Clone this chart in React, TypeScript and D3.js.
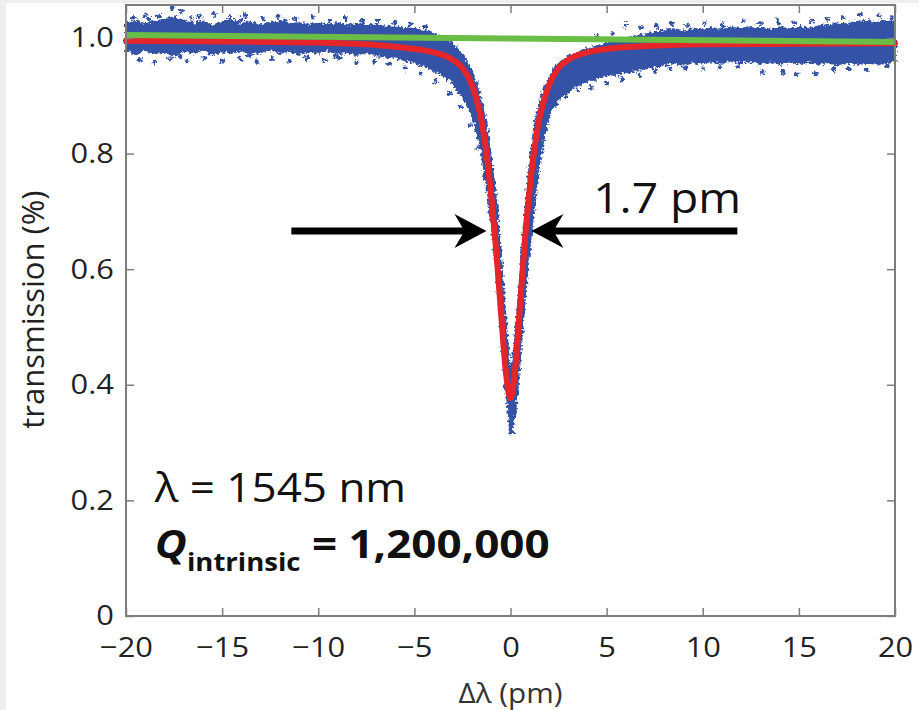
import React, { useEffect, useRef } from 'react';
import * as d3 from 'd3';

const WIDTH = 919;
const HEIGHT = 710;

// axis ticks
const X_TICKS = [-20, -15, -10, -5, 0, 5, 10, 15, 20];
const X_TICK_LABELS = ['−20', '−15', '−10', '−5', '0', '5', '10', '15', '20'];
const Y_TICKS = [0, 0.2, 0.4, 0.6, 0.8, 1.0];
const Y_TICK_LABELS = ['0', '0.2', '0.4', '0.6', '0.8', '1.0'];

// measured data, drawn as a dense band (lower / upper edge of the blue cloud)
const BAND_X = [
  -20, -19.5, -19, -18.5, -18, -17.5, -17, -16.5, -16, -15.5, -15, -14.5, -14, -13.5, -13,
  -12.5, -12, -11.5, -11, -10.5, -10, -9.5, -9, -8.5, -8, -7.5, -7, -6.5, -6, -5.5, -5,
  -4.5, -4, -3.5, -3, -2.75, -2.5, -2.25, -2, -1.75, -1.5, -1.25, -1, -0.75, -0.5, -0.25,
  0, 0.25, 0.5, 0.75, 1, 1.25, 1.5, 1.75, 2, 2.25, 2.5, 3, 3.5, 4, 4.5, 5, 5.5, 6, 6.5,
  7, 7.5, 8, 8.5, 9, 9.5, 10, 10.5, 11, 11.5, 12, 12.5, 13, 13.5, 14, 14.5, 15, 15.5, 16,
  16.5, 17, 17.5, 18, 18.5, 19, 19.5, 20,
];
const BAND_LO = [
  0.978, 0.972, 0.98, 0.974, 0.976, 0.97, 0.978, 0.975, 0.98, 0.972, 0.977, 0.974, 0.979,
  0.973, 0.976, 0.981, 0.974, 0.978, 0.972, 0.977, 0.974, 0.979, 0.973, 0.976, 0.971, 0.975,
  0.97, 0.968, 0.966, 0.962, 0.958, 0.952, 0.945, 0.935, 0.922, 0.91, 0.897, 0.885, 0.868,
  0.84, 0.8, 0.75, 0.69, 0.61, 0.51, 0.4, 0.32, 0.35, 0.45, 0.55, 0.64, 0.72, 0.785, 0.83,
  0.868, 0.884, 0.895, 0.908, 0.918, 0.925, 0.93, 0.935, 0.938, 0.941, 0.944, 0.947, 0.95,
  0.953, 0.956, 0.954, 0.958, 0.956, 0.96, 0.957, 0.961, 0.958, 0.96, 0.956, 0.959, 0.955,
  0.958, 0.956, 0.959, 0.955, 0.958, 0.954, 0.957, 0.955, 0.957, 0.956, 0.958, 0.96,
];
const BAND_HI = [
  1.026, 1.03, 1.024, 1.028, 1.032, 1.036, 1.03, 1.025, 1.028, 1.022, 1.027, 1.031, 1.024,
  1.027, 1.022, 1.026, 1.029, 1.023, 1.026, 1.021, 1.025, 1.022, 1.026, 1.02, 1.024, 1.021,
  1.023, 1.019, 1.02, 1.017, 1.016, 1.012, 1.008, 1.0, 0.99, 0.98, 0.97, 0.957, 0.942, 0.918,
  0.888, 0.845, 0.79, 0.72, 0.625, 0.51, 0.41, 0.48, 0.58, 0.69, 0.78, 0.85, 0.885, 0.91,
  0.93, 0.945, 0.955, 0.967, 0.975, 0.981, 0.986, 0.99, 0.995, 0.999, 1.003, 1.006, 1.009,
  1.012, 1.015, 1.011, 1.016, 1.013, 1.017, 1.014, 1.018, 1.015, 1.019, 1.016, 1.014, 1.018,
  1.015, 1.019, 1.016, 1.02, 1.022, 1.025, 1.023, 1.028, 1.03, 1.026, 1.029, 1.027,
];

// individual points sticking out of the cloud
const DOTS: [number, number][] = [
  [-19.6, 1.036], [-19.0, 1.04], [-18.3, 1.038], [-17.6, 1.052], [-17.1, 1.046], [-16.2, 1.037],
  [-15.4, 1.041], [-14.6, 1.036], [-13.8, 1.039], [-12.9, 1.034], [-12.1, 1.037], [-11.2, 1.033],
  [-10.3, 1.036], [-9.4, 1.031], [-8.6, 1.034], [-7.7, 1.029], [-6.9, 1.031], [-6.0, 1.027],
  [-5.2, 1.024], [-4.4, 1.02], [-18.8, 1.033], [-16.6, 1.034], [-14.0, 1.032], [-11.7, 1.03],
  [-19.3, 0.962], [-18.5, 0.958], [-17.7, 0.964], [-16.8, 0.96], [-15.9, 0.966], [-15.0, 0.961],
  [-14.1, 0.965], [-13.2, 0.959], [-12.4, 0.964], [-11.5, 0.96], [-10.6, 0.966], [-9.7, 0.961],
  [-8.9, 0.965], [-8.0, 0.958], [-7.1, 0.96], [-6.3, 0.955], [-5.5, 0.948], [-4.7, 0.938],
  [-3.9, 0.925], [-3.2, 0.905], [-17.2, 0.968], [-13.6, 0.97], [-9.1, 0.968],
  [-2.6, 0.88], [-2.1, 0.85], [-1.7, 0.81], [-1.35, 0.76], [-1.05, 0.7], [-0.8, 0.63],
  [-0.55, 0.55], [-0.32, 0.47], [-0.12, 0.4], [0.02, 0.33], [0.06, 0.318], [-0.03, 0.35],
  [0.1, 0.37], [0.3, 0.45], [0.52, 0.53], [0.72, 0.62], [0.95, 0.7], [1.2, 0.78], [1.5, 0.83],
  [1.9, 0.865], [2.4, 0.885], [2.9, 0.9], [3.5, 0.91],
  [4.5, 1.002], [5.3, 1.008], [6.0, 1.022], [6.8, 1.018], [7.6, 1.021], [8.4, 1.025],
  [9.2, 1.022], [10.1, 1.026], [11.0, 1.023], [12.1, 1.03], [13.0, 1.025], [13.9, 1.028],
  [14.8, 1.026], [15.7, 1.029], [16.5, 1.032], [17.3, 1.036], [18.2, 1.041], [19.2, 1.038],
  [19.8, 1.034],
  [4.2, 0.915], [5.0, 0.922], [5.8, 0.93], [6.7, 0.936], [7.5, 0.942], [8.3, 0.946],
  [9.1, 0.948], [10.0, 0.947], [10.9, 0.95], [11.8, 0.949], [13.1, 0.941], [14.2, 0.94],
  [14.9, 0.938], [15.9, 0.938], [16.8, 0.946], [17.6, 0.947], [18.5, 0.945], [19.6, 0.952],
];

// Lorentzian fit (red)
const FIT_X = [
  -20, -15, -10, -7, -5, -4, -3, -2.5, -2, -1.75, -1.5, -1.25, -1, -0.75, -0.5, -0.25, 0,
  0.25, 0.5, 0.75, 1, 1.25, 1.5, 1.75, 2, 2.5, 3, 4, 5, 7, 10, 15, 20,
];
const FIT_Y = [
  0.995, 0.994, 0.992, 0.988, 0.981, 0.975, 0.962, 0.948, 0.918, 0.892, 0.855, 0.8, 0.725,
  0.635, 0.528, 0.425, 0.377, 0.43, 0.54, 0.65, 0.74, 0.81, 0.86, 0.893, 0.918, 0.948, 0.962,
  0.975, 0.981, 0.986, 0.989, 0.99, 0.991,
];

// baseline (green)
const BASE_X = [-20, 20];
const BASE_Y = [1.005, 0.993];

const BLUE = '#3453a6';
const RED = '#e5252a';
const GREEN = '#6abd45';
const FONT = '"Open Sans", "Noto Sans", sans-serif';
const STRETCH = 1.1; // the reference lettering is a little wide

function App() {
  const svgRef = useRef<SVGSVGElement | null>(null);

  useEffect(() => {
    const svg = d3.select(svgRef.current);
    svg.selectAll('*').remove();

    const margin = { top: 5, right: 24, bottom: 94, left: 126 };
    const x = d3.scaleLinear().domain([-20, 20]).range([margin.left, WIDTH - margin.right]);
    const y = d3.scaleLinear().domain([0, 1.057]).range([HEIGHT - margin.bottom, margin.top]);

    // ragged edges for the scatter cloud
    const defs = svg.append('defs');
    const filter = defs
      .append('filter')
      .attr('id', 'fuzz')
      .attr('x', '-5%')
      .attr('y', '-5%')
      .attr('width', '110%')
      .attr('height', '110%');
    filter
      .append('feTurbulence')
      .attr('type', 'fractalNoise')
      .attr('baseFrequency', 0.35)
      .attr('numOctaves', 2)
      .attr('seed', 3)
      .attr('result', 'noise');
    filter
      .append('feDisplacementMap')
      .attr('in', 'SourceGraphic')
      .attr('in2', 'noise')
      .attr('scale', 7)
      .attr('xChannelSelector', 'R')
      .attr('yChannelSelector', 'G');

    svg.append('rect').attr('width', WIDTH).attr('height', HEIGHT).attr('fill', '#fff');
    svg.append('rect').attr('width', 6).attr('height', HEIGHT).attr('fill', '#eeeeee');
    svg.append('rect').attr('width', WIDTH).attr('height', 3).attr('fill', '#eeeeee');

    const x0 = x(-20);
    const x1 = x(20);
    const y0 = y(0);
    const y1 = y(1.057);

    // data cloud
    const cloud = svg.append('g').attr('filter', 'url(#fuzz)');
    const band = BAND_X.map((v, i) => ({ x: v, lo: BAND_LO[i], hi: BAND_HI[i] }));
    const area = d3
      .area<{ x: number; lo: number; hi: number }>()
      .x((d) => x(d.x))
      .y0((d) => y(d.lo))
      .y1((d) => y(d.hi));
    cloud
      .append('path')
      .attr('d', area(band))
      .attr('fill', BLUE)
      .attr('stroke', BLUE)
      .attr('stroke-width', 2)
      .attr('stroke-linejoin', 'round');

    cloud
      .append('g')
      .selectAll('circle')
      .data(DOTS)
      .join('circle')
      .attr('cx', (d) => x(d[0]))
      .attr('cy', (d) => y(d[1]))
      .attr('r', 2.4)
      .attr('fill', BLUE);

    // fit and baseline
    const line = d3
      .line<number>()
      .x((d) => x(d))
      .curve(d3.curveMonotoneX);

    svg
      .append('path')
      .attr('d', line.y((_, i) => y(FIT_Y[i]))(FIT_X))
      .attr('fill', 'none')
      .attr('stroke', RED)
      .attr('stroke-width', 6)
      .attr('stroke-linecap', 'round');

    svg
      .append('path')
      .attr('d', d3.line<number>().x((d) => x(d)).y((_, i) => y(BASE_Y[i]))(BASE_X))
      .attr('fill', 'none')
      .attr('stroke', GREEN)
      .attr('stroke-width', 6);

    // frame with inward ticks
    const axisColor = '#7d7d7d';
    svg
      .append('rect')
      .attr('x', x0)
      .attr('y', y1)
      .attr('width', x1 - x0)
      .attr('height', y0 - y1)
      .attr('fill', 'none')
      .attr('stroke', axisColor)
      .attr('stroke-width', 2);

    const styleAxis = (g: d3.Selection<SVGGElement, unknown, null, undefined>) => {
      g.select('.domain').remove();
      g.selectAll('line').attr('stroke', axisColor).attr('stroke-width', 1.5);
      g.selectAll('text')
        .attr('font-family', FONT)
        .attr('font-size', 28)
        .attr('fill', '#222')
        .attr('transform', `scale(${STRETCH},1)`);
    };

    svg
      .append('g')
      .attr('transform', `translate(0,${y0})`)
      .call(
        d3
          .axisBottom(x)
          .tickValues(X_TICKS)
          .tickSize(-8)
          .tickPadding(21)
          .tickFormat((_, i) => X_TICK_LABELS[i])
      )
      .call(styleAxis);

    svg
      .append('g')
      .attr('transform', `translate(0,${y1})`)
      .call(d3.axisTop(x).tickValues(X_TICKS).tickSize(-8).tickFormat(() => ''))
      .call(styleAxis);

    svg
      .append('g')
      .attr('transform', `translate(${x0},0)`)
      .call(
        d3
          .axisLeft(y)
          .tickValues(Y_TICKS)
          .tickSize(-8)
          .tickPadding(11)
          .tickFormat((_, i) => Y_TICK_LABELS[i])
      )
      .call(styleAxis);

    svg
      .append('g')
      .attr('transform', `translate(${x1},0)`)
      .call(d3.axisRight(y).tickValues(Y_TICKS).tickSize(-8).tickFormat(() => ''))
      .call(styleAxis);

    const label = (px: number, py: number, size: number) =>
      svg
        .append('text')
        .attr('transform', `translate(${px},${py}) scale(${STRETCH},1)`)
        .attr('font-family', FONT)
        .attr('font-size', size)
        .attr('fill', '#111');

    // axis titles
    label(x(0), 703, 27).attr('text-anchor', 'middle').attr('fill', '#333').text('Δλ (pm)');

    svg
      .append('text')
      .attr('transform', `translate(44,${y(0.53)}) rotate(-90)`)
      .attr('text-anchor', 'middle')
      .attr('font-family', FONT)
      .attr('font-size', 31)
      .attr('fill', '#222')
      .text('transmission (%)');

    // FWHM arrows
    const arrowY = y(0.666);
    const arrows = [
      { from: -11.4, to: -1.25 },
      { from: 11.8, to: 1.09 },
    ];
    arrows.forEach((a) => {
      const tip = x(a.to);
      const dir = Math.sign(x(a.to) - x(a.from));
      svg
        .append('line')
        .attr('x1', x(a.from))
        .attr('x2', tip - dir * 20)
        .attr('y1', arrowY)
        .attr('y2', arrowY)
        .attr('stroke', '#000')
        .attr('stroke-width', 7);
      svg
        .append('path')
        .attr(
          'd',
          `M${tip},${arrowY} L${tip - dir * 32},${arrowY - 17} L${tip - dir * 22},${arrowY} L${
            tip - dir * 32
          },${arrowY + 17} Z`
        )
        .attr('fill', '#000');
    });

    label(x(4.3), y(0.697), 42).text('1.7 pm');

    // annotations
    label(x(-18.5), y(0.197), 40).text('λ = 1545 nm');

    const q = label(x(-18.5), y(0.1), 40).attr('font-weight', 700);
    q.append('tspan').attr('font-style', 'italic').text('Q');
    q.append('tspan').attr('font-size', 25).attr('dy', 13).text('intrinsic');
    q.append('tspan').attr('dy', -13).text(' = 1,200,000');
  }, []);

  return (
    <svg
      ref={svgRef}
      width={WIDTH}
      height={HEIGHT}
      style={{ position: 'absolute', left: 0, top: 0 }}
    />
  );
}

export default App;
